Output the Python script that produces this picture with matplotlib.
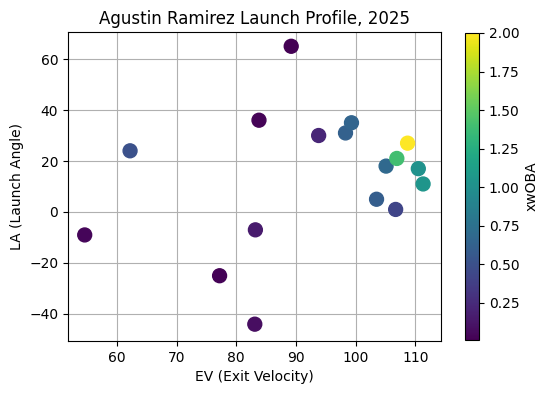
import matplotlib.pyplot as plt

ev = [89.2, 83.8, 62.2, 54.6, 83.2, 77.2, 83.1, 93.8, 98.3, 99.3,
      105.1, 106.9, 108.7, 110.5, 111.3, 103.5, 106.7]
la = [65, 36, 24, -9, -7, -25, -44, 30, 31, 35,
      18, 21, 27, 17, 11, 5, 1]
xwoba = [0.01, 0.03, 0.5, 0.04, 0.15, 0.02, 0.08, 0.22, 0.62, 0.65,
         0.68, 1.4, 2.0, 1.02, 1.05, 0.6, 0.42]

fig = plt.figure(figsize=(5.49, 3.93), dpi=100)
ax = fig.add_axes([68 / 549, 52 / 393, 373 / 549, 309 / 393])
cax = fig.add_axes([465 / 549, 53 / 393, 14 / 549, 307 / 393])

sc = ax.scatter(ev, la, c=xwoba, cmap='viridis', s=100, zorder=3)
ax.grid(True, zorder=0)
ax.set_axisbelow(True)
ax.set_xlim(51.8, 114.3)
ax.set_ylim(-50.6, 70.6)
ax.set_xlabel('EV (Exit Velocity)')
ax.set_ylabel('LA (Launch Angle)')
ax.set_title('Agustin Ramirez Launch Profile, 2025')

cb = fig.colorbar(sc, cax=cax)
cb.set_label('xwOBA')

plt.savefig('out.png', dpi=100)
